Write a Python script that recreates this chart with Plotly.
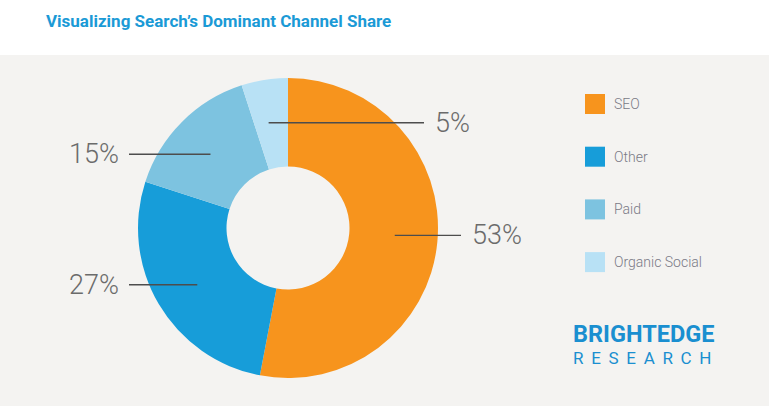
import math
import plotly.graph_objects as go

categories = ["SEO", "Other", "Paid", "Organic Social"]
shares = [53, 27, 15, 5]
colors = ["#f7941d", "#179dd9", "#7dc3e0", "#b8e1f5"]
title_text = "Visualizing Search\u2019s Dominant Channel Share"

W, H = 769, 417
CX, CY, R = 288, 228, 150  # pie centre / radius in pixels


def px(x):
    return x / W


def py(y):
    return 1 - y / H


fig = go.Figure()
fig.add_trace(go.Pie(
    labels=categories, values=shares, sort=False, direction="clockwise",
    rotation=0, hole=0.41, textinfo="none", hoverinfo="label+percent",
    marker=dict(colors=colors, line=dict(width=0)),
    domain=dict(x=[px(CX - R), px(CX + R)], y=[py(CY + R), py(CY - R)]),
    showlegend=False,
))

shapes = [dict(type="rect", xref="paper", yref="paper", x0=0, x1=1,
               y0=py(406), y1=py(55), fillcolor="#f4f3f1", line=dict(width=0),
               layer="below")]
annotations = []

# leader lines & labels computed from slice mid-angles
total = sum(shares)
cum = 0
for cat, v in zip(categories, shares):
    mid = (cum + v / 2) / total * 2 * math.pi - 0.025
    cum += v
    sx = CX + 107 * math.sin(mid)
    sy = CY - 107 * math.cos(mid)
    if math.sin(mid) >= 0 or mid > 1.9 * math.pi:
        ex = 461 if v > 10 else 424
        anchor, tx = "left", ex + 9
    else:
        ex = 129
        anchor, tx = "right", ex - 8
    shapes.append(dict(type="line", xref="paper", yref="paper",
                       x0=px(sx), x1=px(ex), y0=py(sy), y1=py(sy),
                       line=dict(color="#4d4d4d", width=1.3), layer="above"))
    annotations.append(dict(xref="paper", yref="paper", x=px(tx), y=py(sy),
                            xanchor=anchor, yanchor="middle", showarrow=False,
                            text=f"{v}%",
                            font=dict(family="Roboto", weight=300, size=27,
                                      color="#6b6b6b")))

# legend
for i, (cat, col) in enumerate(zip(categories, colors)):
    yc = 104 + i * 52.7
    shapes.append(dict(type="rect", xref="paper", yref="paper",
                       x0=px(585), x1=px(605), y0=py(yc + 10), y1=py(yc - 10),
                       fillcolor=col, line=dict(width=0)))
    annotations.append(dict(xref="paper", yref="paper", x=px(612), y=py(yc),
                            xanchor="left", yanchor="middle", showarrow=False,
                            text=cat,
                            font=dict(family="Roboto", weight=300, size=14,
                                      color="#7a7a86")))

annotations.append(dict(xref="paper", yref="paper", x=px(44), y=py(21),
                        xanchor="left", yanchor="middle", showarrow=False,
                        text=f"<b>{title_text}</b>",
                        font=dict(family="Roboto", size=17,
                                  color="#1b9ad6")))
annotations.append(dict(xref="paper", yref="paper", x=px(571), y=py(334),
                        xanchor="left", yanchor="middle", showarrow=False,
                        text="<b>BRIGHTEDGE</b>",
                        font=dict(family="Roboto", size=23.5,
                                  color="#1a8fd0")))
annotations.append(dict(xref="paper", yref="paper", x=px(571), y=py(358),
                        xanchor="left", yanchor="middle", showarrow=False,
                        text="\u2009 ".join("RESEARCH"),
                        font=dict(family="Roboto", size=17,
                                  color="#1a8fd0")))

fig.update_layout(width=W, height=H, margin=dict(l=0, r=0, t=0, b=0),
                  paper_bgcolor="white", plot_bgcolor="white",
                  shapes=shapes, annotations=annotations)
fig.write_html("out.html", config={"displayModeBar": False},
               post_script="document.body.style.margin='0';document.body.style.padding='0';")
